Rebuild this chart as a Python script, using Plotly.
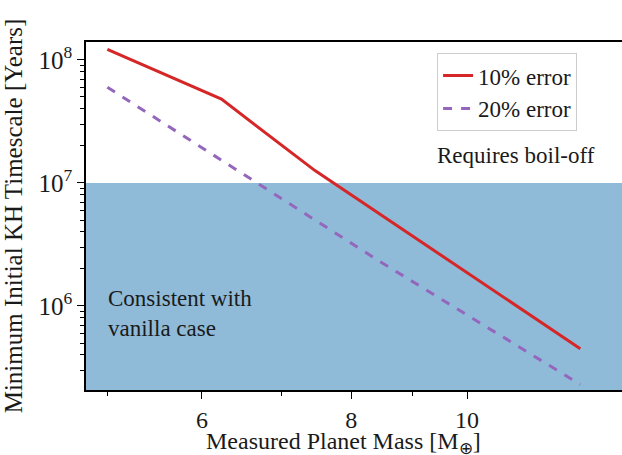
import plotly.graph_objects as go

# Data
mass_10 = [5.0, 6.23, 7.46, 12.44]
kh_10 = [1.22e8, 4.8e7, 1.26e7, 4.5e5]
mass_20 = [5.0, 8.46, 12.44]
kh_20 = [6.0e7, 2.29e6, 2.3e5]
boiloff_threshold = 1e7
shade_floor = 1e5

x_major = [6, 8, 10]
x_major_text = ["6", "8", "10"]
x_minor = [5, 7, 9]
y_major = [1e6, 1e7, 1e8]
y_major_text = ["10<sup>6</sup>", "10<sup>7</sup>", "10<sup>8</sup>"]
y_minor = [m * 10 ** e for e in (5, 6, 7) for m in range(2, 10)]

FONT = "Liberation Serif"
INK = "#1a1a1a"

fig = go.Figure()
fig.add_trace(go.Scatter(x=mass_10, y=kh_10, mode="lines", name="10% error",
                         line=dict(color="#d62728", width=3)))
fig.add_trace(go.Scatter(x=mass_20, y=kh_20, mode="lines", name="20% error",
                         line=dict(color="#9467bd", width=3, dash="dash")))

fig.add_shape(type="rect", xref="paper", x0=0, x1=1, yref="y",
              y0=shade_floor, y1=boiloff_threshold,
              fillcolor="#8fbbd9", line=dict(width=0), layer="below")

fig.add_annotation(text="Requires boil-off", xref="paper", yref="paper",
                   x=0.652, y=0.675, xanchor="left", yanchor="middle",
                   showarrow=False, font=dict(family=FONT, size=23, color=INK))
fig.add_annotation(text="Consistent with<br>vanilla case", xref="paper", yref="paper",
                   x=0.038, y=0.221, xanchor="left", yanchor="middle", align="left",
                   showarrow=False, font=dict(family=FONT, size=23, color=INK))
fig.add_annotation(text="Measured Planet Mass [M<sub>⊕</sub>]", xref="paper", yref="paper",
                   x=0.480, y=-0.103, xanchor="center", yanchor="top",
                   showarrow=False, font=dict(family=FONT, size=24, color=INK))

fig.update_layout(
    width=622, height=455,
    margin=dict(l=86, r=0, t=42, b=65, autoexpand=False),
    plot_bgcolor="white", paper_bgcolor="white",
    font=dict(family=FONT, size=24, color=INK),
    showlegend=True,
    legend=dict(x=0.655, y=0.968, xanchor="left", yanchor="top",
                bgcolor="white", bordercolor="#cccccc", borderwidth=1,
                entrywidth=120, tracegroupgap=4,
                font=dict(family=FONT, size=23, color=INK)),
    xaxis=dict(type="log", range=[0.6811, 1.1297], automargin=False,
               tickmode="array", tickvals=x_major, ticktext=x_major_text,
               ticks="outside", ticklen=7, tickwidth=1, tickcolor="black",
               showline=True, linecolor="black", linewidth=1.5, mirror=True,
               showgrid=False, zeroline=False,
               minor=dict(tickmode="array", tickvals=x_minor, ticks="outside",
                          ticklen=4, tickcolor="black", showgrid=False),
               tickfont=dict(family=FONT, size=24, color=INK)),
    yaxis=dict(type="log", range=[5.317, 8.146], automargin=False,
               tickmode="array", tickvals=y_major, ticktext=y_major_text,
               ticks="outside", ticklen=7, tickwidth=1, tickcolor="black",
               showline=True, linecolor="black", linewidth=1.5, mirror=False,
               showgrid=False, zeroline=False,
               minor=dict(tickmode="array", tickvals=y_minor, ticks="outside",
                          ticklen=4, tickcolor="black", showgrid=False),
               title=dict(text="Minimum Initial KH Timescale [Years]", standoff=10,
                          font=dict(family=FONT, size=25, color=INK)),
               tickfont=dict(family=FONT, size=25, color=INK)),
)

fig.write_html("out.html", config={"displayModeBar": False},
               post_script="document.body.style.margin='0';document.body.style.overflow='hidden';")
